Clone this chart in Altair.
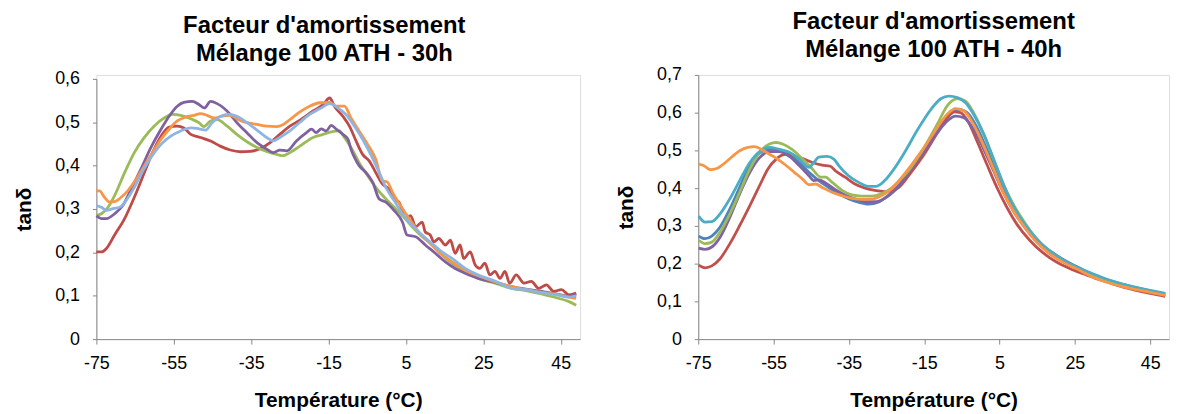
import altair as alt
import pandas as pd

FONT = "Liberation Sans"

# ---------------- Left panel: Mélange 100 ATH - 30h ----------------
L_red_T = [-75, -73.7, -72.4, -70.3, -67.7, -65.2, -62.6, -60.5, -58.3, -56.2, -54.1, -52.4, -50.6, -48.1,
           -45.5, -43, -40.4, -37.8, -35.3, -32.7, -30.1, -27.6, -25, -22.4, -19, -16.5, -14.7, -13.5, -11.3,
           -9.6, -7.9, -6.2, -4.5, -2.8, -1.1, 0.6, 2.4, 3.2, 4.9, 6.2, 7.5, 9.2, 10, 11.3, 12.2, 13.5, 15.2,
           16.5, 17.7, 19, 19.9, 21.6, 22.9, 24.1, 25.4, 26.7, 28, 29.3, 30.6, 31.8, 33.5, 35.5, 37.4, 39.3,
           41.3, 43.2, 45.2, 47.1, 49]
L_red_v = [0.201, 0.201, 0.209, 0.240, 0.278, 0.327, 0.384, 0.430, 0.468, 0.489, 0.491, 0.487, 0.472, 0.465,
           0.457, 0.445, 0.436, 0.432, 0.433, 0.439, 0.453, 0.472, 0.491, 0.505, 0.526, 0.540, 0.556, 0.537, 0.514,
           0.491, 0.457, 0.426, 0.411, 0.384, 0.358, 0.346, 0.320, 0.316, 0.278, 0.285, 0.259, 0.270, 0.247, 0.240,
           0.224, 0.232, 0.217, 0.228, 0.198, 0.217, 0.186, 0.201, 0.171, 0.163, 0.175, 0.148, 0.156, 0.140, 0.156,
           0.129, 0.148, 0.129, 0.133, 0.117, 0.125, 0.110, 0.114, 0.102, 0.106]

L_green_T = [-75, -73.7, -72, -70.3, -67.7, -65.2, -62.6, -60.1, -57.5, -55.3, -53.2, -50.6, -48.5, -47.2,
             -45.5, -43.8, -41.2, -38.7, -36.1, -33.5, -31, -28.4, -26.7, -25, -22.4, -19, -16.4, -14.3, -12.2,
             -10.9, -9.2, -7.1, -4.9, -2.8, -0.6, 1.5, 4.1, 6.6, 9.2, 11.8, 14.3, 16.9, 20.3, 23.7, 28, 32.3,
             36, 40, 44, 47, 49]
L_green_v = [0.285, 0.289, 0.304, 0.331, 0.384, 0.430, 0.465, 0.491, 0.510, 0.518, 0.516, 0.508, 0.499, 0.490,
             0.503, 0.506, 0.491, 0.472, 0.455, 0.442, 0.433, 0.426, 0.423, 0.430, 0.445, 0.465, 0.472, 0.478, 0.480,
             0.465, 0.442, 0.407, 0.377, 0.350, 0.327, 0.308, 0.285, 0.259, 0.236, 0.217, 0.194, 0.175, 0.156, 0.140,
             0.129, 0.117, 0.112, 0.104, 0.095, 0.087, 0.078]

L_purple_T = [-75, -73.7, -72.4, -70.3, -68.2, -66, -63.5, -60.9, -58.3, -56.2, -54.1, -52.4, -50.2, -48.5,
              -47.1, -45.5, -43.8, -42.1, -40.4, -38.7, -36.1, -33.5, -31, -29.3, -27.6, -25.8, -23.3, -20.7,
              -19.4, -18.2, -16.9, -15.6, -14.3, -13, -11.3, -10, -9.2, -8.3, -7.1, -5.3, -3.6, -1.9, -0.2, 1.9,
              4.1, 5.3, 7.5, 10, 12.6, 15.2, 17.7, 20.3, 23.7, 28, 32.3, 36, 40, 44, 47, 49]
L_purple_v = [0.284, 0.278, 0.278, 0.289, 0.308, 0.346, 0.392, 0.442, 0.484, 0.514, 0.537, 0.546, 0.548, 0.541,
              0.533, 0.548, 0.543, 0.533, 0.518, 0.499, 0.476, 0.453, 0.438, 0.430, 0.436, 0.434, 0.457, 0.476,
              0.484, 0.476, 0.485, 0.480, 0.493, 0.484, 0.472, 0.461, 0.438, 0.419, 0.400, 0.384, 0.362, 0.323,
              0.316, 0.297, 0.270, 0.240, 0.236, 0.217, 0.198, 0.178, 0.163, 0.152, 0.140, 0.131, 0.121, 0.115,
              0.110, 0.104, 0.099, 0.104]

L_orange_T = [-75, -74.2, -72.9, -71.6, -70.3, -68.6, -66.9, -64.7, -62.6, -60.5, -58.3, -56.2, -54.1, -51.9,
              -49.8, -48.1, -46.4, -44.6, -42.5, -40.4, -38.3, -36.1, -33.5, -31, -28.4, -26.7, -25, -22.4, -19.9,
              -17.3, -14.7, -13, -10.9, -9.2, -7.1, -4.9, -2.8, -1.1, 0.2, 1.5, 3.6, 5.8, 8.3, 10.9, 13.5, 16.9,
              20.3, 23.7, 28, 32.3, 36, 40, 44, 47, 49]
L_orange_v = [0.342, 0.342, 0.327, 0.316, 0.317, 0.327, 0.342, 0.369, 0.400, 0.430, 0.461, 0.484, 0.503, 0.512,
              0.516, 0.520, 0.516, 0.510, 0.514, 0.516, 0.506, 0.499, 0.495, 0.491, 0.490, 0.495, 0.506, 0.524,
              0.537, 0.545, 0.546, 0.537, 0.537, 0.510, 0.480, 0.449, 0.415, 0.365, 0.362, 0.339, 0.308, 0.278,
              0.247, 0.224, 0.201, 0.178, 0.159, 0.146, 0.132, 0.121, 0.114, 0.108, 0.103, 0.097, 0.094]

L_lblue_T = [-75, -73.7, -72.4, -70.7, -69, -67.3, -65.2, -63, -60.9, -58.3, -55.8, -53.2, -50.6, -48.5, -46.8,
             -45.1, -42.9, -40.8, -38.7, -36.1, -33.5, -31, -29.3, -27.6, -25, -22.4, -19.9, -17.3, -14.7, -12.6,
             -10.5, -8.3, -6.2, -4.1, -1.9, -0.2, 1.9, 4.1, 6.6, 9.2, 11.8, 14.3, 16.9, 20.3, 23.7, 28, 32.3, 36,
             40, 44, 47, 49]
L_lblue_v = [0.308, 0.304, 0.297, 0.301, 0.304, 0.320, 0.350, 0.388, 0.419, 0.449, 0.468, 0.480, 0.487, 0.485,
             0.482, 0.499, 0.514, 0.518, 0.514, 0.499, 0.482, 0.465, 0.457, 0.465, 0.480, 0.500, 0.518, 0.531,
             0.543, 0.533, 0.518, 0.491, 0.461, 0.426, 0.384, 0.350, 0.320, 0.289, 0.262, 0.240, 0.220, 0.201,
             0.186, 0.163, 0.148, 0.134, 0.117, 0.114, 0.107, 0.102, 0.097, 0.100]

# ---------------- Right panel: Mélange 100 ATH - 40h ----------------
R_blue_T = [-74.9, -73.2, -71.4, -69.2, -66.6, -64, -61.3, -58.7, -56.1, -53.5, -50.8, -48.2, -45.6, -43, -40.4,
            -37.7, -35.1, -32.5, -29.8, -27.2, -24.6, -22, -18.5, -15, -11.5, -8.4, -5.8, -3.6, -1, 1.6, 4.3, 6.9,
            9.5, 12.1, 15.6, 19.1, 22.6, 26.1, 29.6, 33.1, 37, 41, 45, 49]
R_blue_v = [0.273, 0.266, 0.273, 0.297, 0.345, 0.402, 0.460, 0.493, 0.503, 0.502, 0.490, 0.468, 0.442, 0.420,
            0.402, 0.385, 0.372, 0.363, 0.358, 0.363, 0.380, 0.405, 0.451, 0.499, 0.552, 0.592, 0.609, 0.600,
            0.561, 0.503, 0.442, 0.385, 0.336, 0.297, 0.257, 0.229, 0.207, 0.189, 0.172, 0.159, 0.147, 0.137,
            0.128, 0.120]

R_red_T = [-74.9, -73.2, -71.4, -69.2, -66.6, -64, -61.3, -58.7, -56.5, -54.3, -52.6, -50.8, -49.1, -46.9, -44.7,
           -42.1, -39.9, -38.6, -36, -33.4, -30.7, -28.1, -25.5, -23.3, -22, -18.5, -15, -11.5, -8.9, -7.1, -5.4,
           -3.2, -1, 1.6, 4.3, 6.9, 9.5, 13, 16.5, 20, 23.5, 27, 30.5, 33.1, 37, 41, 45, 49]
R_red_v = [0.196, 0.189, 0.194, 0.213, 0.253, 0.301, 0.354, 0.407, 0.451, 0.477, 0.488, 0.490, 0.484, 0.477, 0.468,
           0.461, 0.458, 0.446, 0.429, 0.411, 0.400, 0.394, 0.391, 0.394, 0.400, 0.442, 0.490, 0.547, 0.587, 0.602,
           0.600, 0.574, 0.525, 0.464, 0.402, 0.350, 0.306, 0.262, 0.229, 0.205, 0.188, 0.174, 0.161, 0.153, 0.140,
           0.130, 0.121, 0.113]

R_green_T = [-74.9, -73.2, -71.4, -69.2, -66.6, -64, -61.3, -58.7, -56.1, -54.3, -52.6, -50, -47.3, -44.7, -42.5,
             -41.2, -39.5, -36.8, -34.2, -31.6, -29, -26.4, -23.7, -22, -18.5, -15, -11.5, -8.9, -6.2, -4.1, -1.9,
             0.8, 3.4, 6, 8.6, 11.3, 14.8, 18.3, 21.8, 25.3, 29.6, 33.1, 37, 41, 45, 49]
R_green_v = [0.262, 0.253, 0.257, 0.284, 0.332, 0.389, 0.451, 0.495, 0.517, 0.521, 0.517, 0.502, 0.477, 0.451,
             0.429, 0.429, 0.416, 0.394, 0.382, 0.379, 0.379, 0.385, 0.400, 0.416, 0.455, 0.508, 0.570, 0.618,
             0.637, 0.631, 0.600, 0.543, 0.477, 0.411, 0.358, 0.314, 0.266, 0.233, 0.209, 0.190, 0.169, 0.156,
             0.145, 0.135, 0.126, 0.118]

R_purple_T = [-74.9, -73.2, -71.4, -69.2, -66.6, -64, -61.3, -58.7, -56.1, -53.5, -50.8, -48.2, -45.6, -44.3, -43,
              -41.2, -38.6, -36, -33.4, -30.7, -28.1, -25.5, -23.3, -22, -18.5, -15, -11.5, -8.9, -6.7, -4.5, -1.9,
              0.8, 3.4, 6, 8.6, 11.3, 14.8, 18.3, 21.8, 25.3, 29.6, 33.1, 37, 41, 45, 49]
R_purple_v = [0.241, 0.238, 0.244, 0.270, 0.323, 0.385, 0.442, 0.481, 0.497, 0.497, 0.484, 0.460, 0.433, 0.420,
              0.422, 0.414, 0.396, 0.382, 0.372, 0.364, 0.364, 0.373, 0.389, 0.402, 0.451, 0.497, 0.547, 0.578,
              0.591, 0.587, 0.556, 0.503, 0.446, 0.389, 0.341, 0.301, 0.259, 0.228, 0.206, 0.188, 0.168, 0.154,
              0.143, 0.133, 0.125, 0.117]

R_aqua_T = [-74.9, -73.2, -71.4, -69.2, -66.6, -64, -61.3, -58.7, -56.1, -53.5, -50.8, -48.2, -45.6, -44.3, -43,
            -40.8, -39, -37.7, -35.1, -32.5, -29.8, -27.7, -25.5, -23.3, -20.2, -16.7, -13.2, -10.6, -8.4, -6.2,
            -4.1, -1.9, 0.8, 3.4, 6, 8.6, 11.3, 14.8, 18.3, 21.8, 25.3, 29.6, 33.1, 37, 41, 45, 49]
R_aqua_v = [0.326, 0.310, 0.311, 0.332, 0.372, 0.420, 0.468, 0.497, 0.508, 0.503, 0.495, 0.477, 0.455, 0.468,
            0.482, 0.484, 0.477, 0.460, 0.433, 0.416, 0.405, 0.405, 0.420, 0.447, 0.495, 0.556, 0.609, 0.637,
            0.644, 0.640, 0.627, 0.596, 0.543, 0.477, 0.411, 0.354, 0.310, 0.266, 0.233, 0.209, 0.191, 0.174,
            0.160, 0.148, 0.138, 0.129, 0.121]

R_orange_T = [-74.9, -73.6, -71.8, -70.1, -68.3, -66.2, -64, -61.8, -60, -58.3, -56.1, -53.9, -51.7, -49.5, -47.3,
              -45.6, -43.8, -42.1, -39.5, -36.8, -34.2, -31.6, -29, -26.4, -23.7, -22, -18.5, -15, -11.5, -8.9,
              -6.7, -4.5, -1.9, 0.8, 3.4, 6, 8.6, 11.3, 14.8, 18.3, 21.8, 25.3, 29.6, 33.1, 37, 41, 45, 49]
R_orange_v = [0.464, 0.460, 0.449, 0.452, 0.464, 0.482, 0.499, 0.508, 0.510, 0.503, 0.490, 0.477, 0.460, 0.442,
              0.424, 0.409, 0.411, 0.402, 0.389, 0.380, 0.373, 0.370, 0.371, 0.380, 0.398, 0.416, 0.460, 0.508,
              0.561, 0.596, 0.611, 0.605, 0.569, 0.512, 0.451, 0.389, 0.341, 0.301, 0.257, 0.226, 0.204, 0.187,
              0.165, 0.152, 0.141, 0.132, 0.124, 0.116]

LEFT_SERIES = [("L1", L_red_T, L_red_v), ("L2", L_green_T, L_green_v), ("L3", L_purple_T, L_purple_v),
               ("L4", L_orange_T, L_orange_v), ("L5", L_lblue_T, L_lblue_v)]
LEFT_COLORS = ["#BE4B48", "#9BBB59", "#7F60A0", "#F79646", "#8DB4E2"]

RIGHT_SERIES = [("R1", R_blue_T, R_blue_v), ("R2", R_red_T, R_red_v), ("R3", R_purple_T, R_purple_v),
                ("R4", R_green_T, R_green_v), ("R5", R_aqua_T, R_aqua_v), ("R6", R_orange_T, R_orange_v)]
RIGHT_COLORS = ["#4F81BD", "#C0504D", "#8064A2", "#9BBB59", "#4BACC6", "#F79646"]

X_TICKS = [-75, -55, -35, -15, 5, 25, 45]


def frame(series):
    rows = []
    for name, ts, vs in series:
        for i, (t, v) in enumerate(zip(ts, vs)):
            rows.append({"s": name, "T": t, "v": v, "i": i})
    return pd.DataFrame(rows)


def panel(series, colors, ymax, title, width, height, ytop, tdx):
    df = frame(series)
    yticks = [round(k * 0.1, 1) for k in range(int(round(ymax * 10)) + 1)]
    return alt.Chart(df).mark_line(strokeWidth=2.8, interpolate="monotone").encode(
        x=alt.X("T:Q", scale=alt.Scale(domain=[-75, 50], nice=False, zero=False),
                axis=alt.Axis(values=X_TICKS, title="Température (°C)", grid=False,
                              labelExpr="'' + datum.value",
                              labelFontSize=18, titleFontSize=21, titleFontWeight="bold",
                              labelPadding=11, tickSize=5, titlePadding=17, labelFlush=False)),
        y=alt.Y("v:Q", scale=alt.Scale(domain=[0, ymax], nice=False, range=[height, ytop]),
                axis=alt.Axis(values=yticks, title="tanδ", grid=False,
                              labelExpr="datum.value == 0 ? '0' : replace(format(datum.value, '.1f'), '.', ',')",
                              labelFontSize=18, titleFontSize=21, titleFontWeight="bold",
                              labelPadding=13, tickSize=4, titlePadding=20)),
        color=alt.Color("s:N", scale=alt.Scale(domain=[s[0] for s in series], range=colors), legend=None),
        order=alt.Order("i:Q"),
    ).properties(
        width=width, height=height,
        title=alt.TitleParams(text=title, fontSize=24, font=FONT, fontWeight="bold", anchor="middle",
                              frame="group", lineHeight=28, offset=4, dx=tdx, color="#000000"),
    )


left = panel(LEFT_SERIES, LEFT_COLORS, 0.6, ["Facteur d'amortissement", "Mélange 100 ATH - 30h"],
             487, 266, 4, -14)
right = panel(RIGHT_SERIES, RIGHT_COLORS, 0.7, ["Facteur d'amortissement", "Mélange 100 ATH - 40h"],
              474, 266, 0, 0)

chart = alt.hconcat(left, right, spacing=32).resolve_scale(color="independent").properties(
    padding={"left": 5, "top": 0, "right": 0, "bottom": 0}
).configure_view(stroke=None).configure_axis(
    labelFont=FONT, titleFont=FONT, labelColor="#222222", titleColor="#000000",
    domainColor="#888888", tickColor="#888888", domainWidth=1,
).configure(background="white")

chart.save("out.html", embed_options={"renderer": "svg", "actions": False})
